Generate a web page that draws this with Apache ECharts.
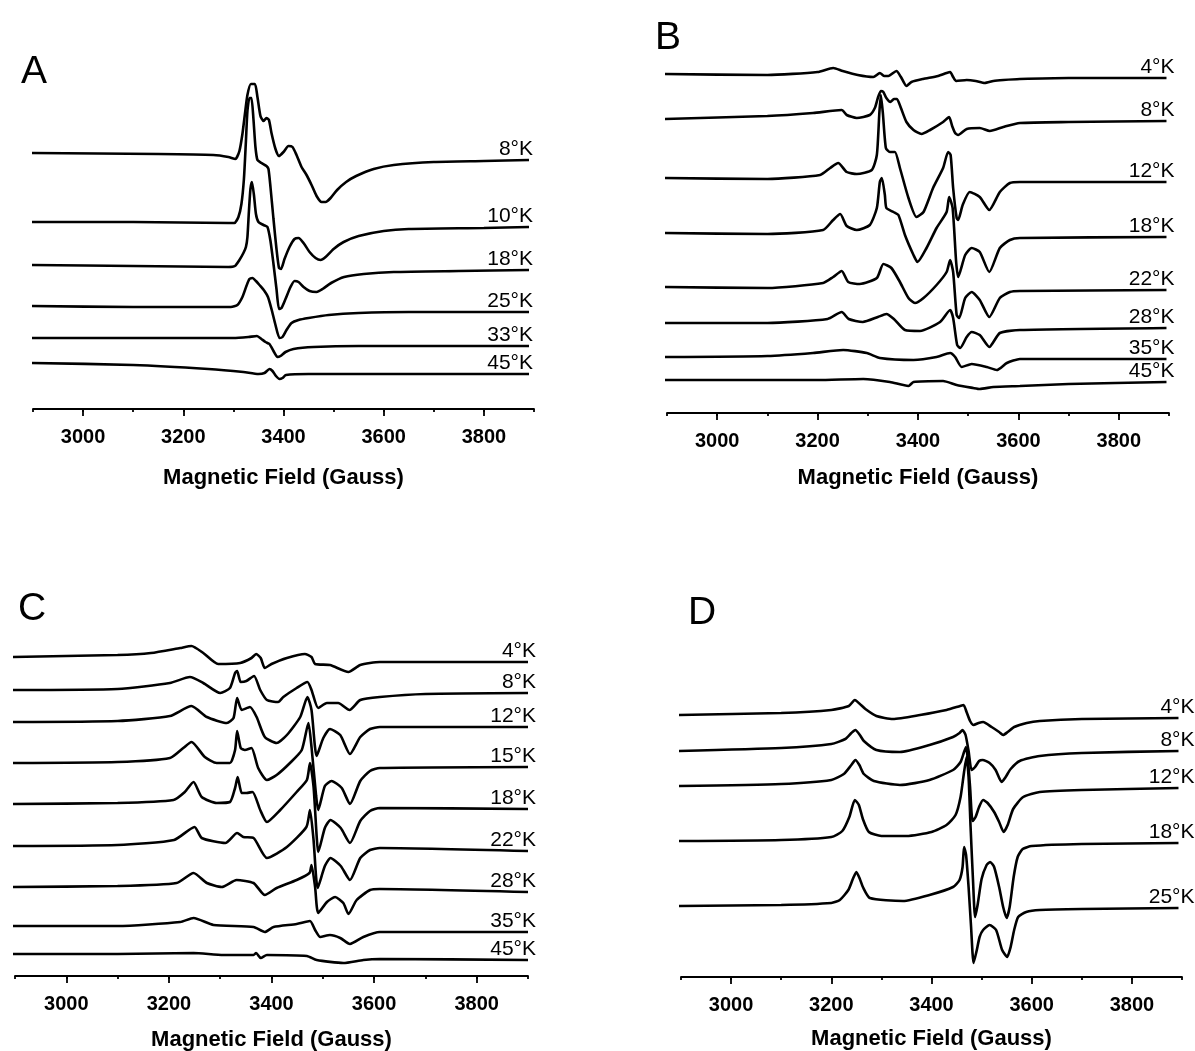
<!DOCTYPE html>
<html>
<head>
<meta charset="utf-8">
<script src="https://cdn.jsdelivr.net/npm/echarts@6/dist/echarts.min.js"></script>
<style>
  html, body { margin: 0; padding: 0; background: #fff; }
  #chart { width: 1195px; height: 1051px; }
</style>
</head>
<body>
<div id="chart"></div>
<script>
// field axis (Gauss)
const fieldMin = 2900
const fieldMax = 3900
const tickLabels = [3000, 3200, 3400, 3600, 3800]

// intensities are in arbitrary units, already stacked (trace baseline + signal)
// ---- panel A
const tempsA = ['8°K', '10°K', '18°K', '25°K', '33°K', '45°K']
const a8 = [[2898,256],[3150,255],[3260,254],[3290,252],[3304,250],[3312,258],[3318,275],[3323,295],[3328,314],[3335,325],[3343,325],[3348,312],[3354,293],[3360,288],[3366,291],[3371,289],[3376,276],[3384,260],[3391,253],[3400,257],[3410,263],[3418,262],[3426,254],[3436,242],[3446,234],[3456,224],[3466,213],[3476,207],[3484,207],[3494,211],[3507,219],[3525,227],[3545,233],[3580,240],[3620,244],[3700,247],[3800,248],[3890,249]]
const a10 = [[2898,187],[3100,187],[3290,186],[3302,186],[3310,192],[3316,205],[3321,230],[3325,268],[3328,298],[3332,311],[3336,311],[3340,290],[3344,262],[3348,249],[3356,246],[3366,243],[3370,240],[3374,222],[3380,190],[3386,160],[3391,141],[3395,140],[3402,150],[3412,162],[3422,170],[3430,171],[3440,166],[3452,157],[3464,151],[3474,149],[3484,152],[3500,160],[3520,167],[3550,173],[3600,178],[3650,180],[3800,181],[3890,182]]
const a18 = [[2898,144],[3100,143],[3290,142],[3303,143],[3312,149],[3320,156],[3325,162],[3328,172],[3331,198],[3334,220],[3337,227],[3341,214],[3345,195],[3350,187],[3360,184],[3368,182],[3374,168],[3380,145],[3386,120],[3391,100],[3396,101],[3404,110],[3414,122],[3422,128],[3430,127],[3440,122],[3452,118],[3466,117],[3478,120],[3495,126],[3521,132],[3560,135],[3620,137],[3750,138],[3890,139]]
const a25 = [[2898,103],[3100,102],[3295,102],[3308,104],[3318,112],[3326,123],[3332,130],[3338,131],[3345,128],[3352,124],[3362,118],[3369,112],[3376,100],[3384,84],[3392,71],[3398,72],[3406,79],[3416,86],[3430,89],[3450,91],[3490,94],[3550,96],[3650,97],[3890,97]]
const a33 = [[2898,71],[3100,71],[3300,71],[3330,72],[3347,73],[3356,70],[3364,67],[3372,65],[3380,58],[3388,52],[3394,53],[3404,57],[3420,60],[3460,62],[3550,63],[3890,63]]
const a45 = [[2898,46],[3100,44],[3250,40],[3320,37],[3350,35],[3362,36],[3372,40],[3378,38],[3385,33],[3392,30],[3398,31],[3405,34],[3450,35],[3890,35]]

// ---- panel B
const tempsB = ['4°K', '8°K', '12°K', '18°K', '22°K', '28°K', '35°K', '45°K']
const b4 = [[2892,339],[3100,338],[3200,341],[3231,345],[3250,342],[3280,338],[3311,336],[3324,340],[3333,337],[3341,337],[3357,342],[3366,336],[3377,327],[3387,331],[3410,334],[3440,337],[3457,340],[3464,341],[3470,336],[3476,332],[3497,333],[3515,332],[3533,330],[3550,332],[3570,333],[3603,334],[3700,335],[3895,335]]
const b8 = [[2892,294],[3100,297],[3191,300],[3248,303],[3258,298],[3278,295],[3304,298],[3314,305],[3320,315],[3326,322],[3331,321],[3337,315],[3345,311],[3352,314],[3358,314],[3366,305],[3377,291],[3391,283],[3407,279],[3424,283],[3450,291],[3462,296],[3468,287],[3474,280],[3480,278],[3497,284],[3523,285],[3543,282],[3570,286],[3603,290],[3700,291],[3895,292]]
const b12 = [[2892,235],[3100,234],[3205,238],[3225,245],[3241,250],[3258,241],[3278,239],[3308,243],[3318,258],[3323,300],[3326,318],[3330,300],[3336,265],[3344,261],[3354,261],[3364,245],[3381,215],[3397,196],[3411,201],[3430,225],[3450,245],[3460,261],[3465,258],[3470,225],[3477,195],[3480,193],[3489,208],[3503,221],[3523,216],[3542,203],[3563,221],[3583,230],[3603,231],[3895,231]]
const b18 = [[2892,180],[3100,179],[3211,183],[3231,193],[3245,199],[3258,187],[3278,183],[3304,188],[3318,205],[3324,231],[3328,235],[3334,218],[3337,205],[3351,201],[3361,198],[3374,178],[3391,158],[3399,151],[3417,165],[3437,185],[3457,201],[3462,216],[3469,205],[3476,151],[3480,136],[3494,158],[3507,165],[3523,161],[3542,141],[3563,165],[3583,173],[3603,175],[3895,176]]
const b22 = [[2892,126],[3100,125],[3211,130],[3231,136],[3248,142],[3261,131],[3284,129],[3318,135],[3331,149],[3347,145],[3364,131],[3381,115],[3394,110],[3411,115],[3437,128],[3457,141],[3464,153],[3470,141],[3477,98],[3482,95],[3494,115],[3507,121],[3523,113],[3542,96],[3563,115],[3583,121],[3603,122],[3895,123]]
const b28 = [[2892,90],[3100,90],[3220,94],[3248,101],[3262,94],[3290,91],[3320,96],[3337,99],[3352,94],[3374,83],[3404,82],[3444,91],[3464,103],[3470,95],[3478,68],[3484,65],[3497,76],[3507,81],[3523,78],[3542,66],[3563,80],[3603,83],[3895,85]]
const b35 = [[2892,56],[3100,57],[3191,60],[3251,63],[3298,60],[3324,55],[3391,53],[3437,56],[3464,60],[3474,56],[3487,46],[3507,49],[3537,46],[3557,43],[3577,50],[3603,54],[3895,54]]
const b45 = [[2892,33],[3200,33],[3291,34],[3344,31],[3381,27],[3391,31],[3450,32],[3477,28],[3510,25],[3523,24],[3550,26],[3603,27],[3700,29],[3895,31]]

// ---- panel C
const tempsC = ['4°K', '8°K', '12°K', '15°K', '18°K', '22°K', '28°K', '35°K', '45°K']
const c4 = [[2888,319],[3100,321],[3165,323],[3222,328],[3244,330],[3267,323],[3296,312],[3339,313],[3361,318],[3370,322],[3379,318],[3387,308],[3400,312],[3430,318],[3465,322],[3478,319],[3485,312],[3514,311],[3550,304],[3573,311],[3611,314],[3900,314]]
const c8 = [[2888,286],[3100,287],[3202,293],[3241,299],[3267,293],[3300,283],[3319,288],[3329,303],[3333,305],[3340,294],[3351,295],[3366,300],[3378,286],[3391,276],[3413,274],[3423,279],[3449,288],[3470,294],[3478,286],[3491,268],[3508,273],[3530,273],[3552,266],[3573,276],[3611,279],[3700,282],[3900,283]]
const c12 = [[2888,254],[3100,255],[3202,260],[3244,270],[3274,259],[3313,253],[3326,258],[3333,278],[3342,266],[3358,269],[3371,259],[3387,239],[3410,233],[3430,241],[3456,259],[3470,279],[3478,266],[3488,220],[3501,238],[3514,247],[3534,241],[3553,222],[3573,239],[3592,247],[3611,249],[3900,249]]
const c15 = [[2888,213],[3100,214],[3202,218],[3228,228],[3244,234],[3270,219],[3293,213],[3319,213],[3329,226],[3333,245],[3340,228],[3348,226],[3361,228],[3374,208],[3391,196],[3410,201],[3436,213],[3459,226],[3472,253],[3478,229],[3487,180],[3491,166],[3504,190],[3517,195],[3537,188],[3553,172],[3573,195],[3592,205],[3611,208],[3900,209]]
const c18 = [[2888,172],[3100,173],[3209,176],[3231,184],[3248,194],[3264,179],[3293,173],[3319,174],[3329,188],[3334,199],[3342,183],[3351,183],[3363,184],[3378,166],[3391,154],[3417,166],[3449,184],[3469,196],[3475,213],[3482,189],[3488,140],[3491,124],[3504,148],[3515,156],[3535,148],[3553,133],[3573,155],[3592,165],[3611,168],[3900,167]]
const c22 = [[2888,130],[3100,131],[3210,136],[3250,149],[3264,138],[3310,133],[3333,143],[3345,139],[3365,138],[3391,118],[3430,129],[3468,149],[3475,166],[3482,136],[3490,88],[3504,110],[3515,118],[3535,110],[3553,96],[3573,118],[3592,126],[3611,128],[3900,125]]
const c28 = [[2888,89],[3100,90],[3215,93],[3248,103],[3274,93],[3303,89],[3332,96],[3365,93],[3387,81],[3410,88],[3449,96],[3474,103],[3478,111],[3485,89],[3491,63],[3508,74],[3524,79],[3540,73],[3550,62],[3566,76],[3592,86],[3611,87],[3900,84]]
const c35 = [[2888,50],[3100,50],[3222,54],[3248,58],[3287,51],[3365,49],[3387,44],[3404,49],[3449,52],[3475,55],[3485,46],[3495,39],[3514,41],[3534,38],[3553,32],[3579,39],[3611,44],[3900,44]]
const c45 = [[2888,22],[3100,22],[3248,23],[3306,21],[3365,21],[3370,23],[3379,18],[3391,21],[3469,20],[3488,16],[3540,13],[3579,16],[3611,17],[3900,16]]

// ---- panel D
const tempsD = ['4°K', '8°K', '12°K', '18°K', '25°K']
const d4 = [[2896,262],[3100,264],[3200,267],[3235,271],[3247,277],[3257,273],[3268,268],[3290,261],[3323,258],[3377,262],[3430,267],[3457,271],[3464,272],[3470,265],[3477,256],[3484,252],[3494,254],[3503,255],[3520,250],[3535,245],[3543,242],[3552,245],[3565,250],[3590,254],[3616,256],[3700,258],[3893,259]]
const d8 = [[2896,226],[3100,229],[3200,233],[3228,238],[3240,244],[3248,247],[3257,242],[3265,236],[3290,227],[3337,225],[3396,232],[3443,240],[3456,244],[3462,247],[3468,242],[3474,226],[3480,207],[3487,210],[3495,216],[3502,217],[3516,214],[3528,207],[3540,195],[3548,200],[3558,208],[3576,216],[3616,221],[3700,224],[3893,226]]
const d12 = [[2896,191],[3100,193],[3200,197],[3225,203],[3240,212],[3248,217],[3256,212],[3265,203],[3285,196],[3337,192],[3396,197],[3443,207],[3458,215],[3465,225],[3469,230],[3473,215],[3477,190],[3482,156],[3488,160],[3495,170],[3503,177],[3512,174],[3525,165],[3535,155],[3544,145],[3552,152],[3563,168],[3583,180],[3616,185],[3700,187],[3893,189]]
const d18 = [[2896,136],[3100,137],[3200,140],[3222,146],[3236,160],[3247,177],[3255,172],[3263,158],[3275,145],[3300,141],[3350,141],[3400,145],[3430,152],[3448,162],[3458,180],[3465,205],[3470,220],[3474,200],[3478,150],[3483,95],[3487,60],[3492,72],[3500,98],[3510,112],[3517,115],[3525,110],[3535,90],[3543,70],[3550,59],[3556,70],[3564,100],[3572,120],[3582,128],[3600,131],[3700,133],[3893,134]]
const d25 = [[2896,71],[3100,72],[3200,74],[3217,77],[3234,87],[3243,98],[3250,105],[3257,98],[3263,90],[3277,79],[3343,76],[3396,82],[3443,90],[3456,97],[3462,110],[3465,130],[3469,122],[3474,90],[3479,50],[3484,14],[3490,26],[3496,40],[3503,47],[3516,52],[3529,47],[3541,27],[3551,20],[3558,30],[3565,47],[3573,60],[3589,65],[3616,67],[3700,68],[3893,69]]

const FONT = 'Arial, "Liberation Sans", Helvetica, sans-serif'

const panels = [
  { letter: 'A', temps: tempsA, spectra: [a8, a10, a18, a25, a33, a45],
    grid: { left: 33, top: 59, width: 501, height: 350 }, letterAt: [21, 53], labelShift: 4, nameGap: 58 },
  { letter: 'B', temps: tempsB, spectra: [b4, b8, b12, b18, b22, b28, b35, b45],
    grid: { left: 667, top: 53, width: 502, height: 360 }, letterAt: [655, 19], labelShift: 8, nameGap: 54 },
  { letter: 'C', temps: tempsC, spectra: [c4, c8, c12, c15, c18, c22, c28, c35, c45],
    grid: { left: 15, top: 626, width: 513, height: 350 }, letterAt: [18, 590], labelShift: 8, nameGap: 53 },
  { letter: 'D', temps: tempsD, spectra: [d4, d8, d12, d18, d25],
    grid: { left: 681, top: 687, width: 501, height: 290 }, letterAt: [688, 594], labelShift: 16, nameGap: 51 }
]

const chart = echarts.init(document.getElementById('chart'))
const option = {
  animation: false,
  backgroundColor: '#fff',
  title: [],
  grid: [],
  xAxis: [],
  yAxis: [],
  series: []
}

panels.forEach((p, i) => {
  option.title.push({
    text: p.letter, left: p.letterAt[0], top: p.letterAt[1], padding: 0,
    textStyle: { fontFamily: FONT, fontSize: 39, fontWeight: 'normal', color: '#000' }
  })
  option.grid.push(Object.assign({ show: false, containLabel: false, outerBoundsMode: 'none' }, p.grid))
  // axis with line, short ticks every 100 G and the labels
  option.xAxis.push({
    gridIndex: i, type: 'value', min: fieldMin, max: fieldMax, interval: 100,
    position: 'bottom',
    axisLine: { onZero: false, lineStyle: { color: '#000', width: 1.8 } },
    axisTick: { length: 3, lineStyle: { color: '#000', width: 1.8 } },
    axisLabel: {
      margin: 18, color: '#000', fontFamily: FONT, fontSize: 20, fontWeight: 'bold',
      formatter: v => tickLabels.indexOf(v) >= 0 ? String(v) : ''
    },
    splitLine: { show: false },
    name: 'Magnetic Field (Gauss)', nameLocation: 'middle', nameGap: p.nameGap,
    nameMoveOverlap: false,
    nameTextStyle: { color: '#000', fontFamily: FONT, fontSize: 22, fontWeight: 'bold' }
  })
  // long ticks at the labelled values, drawn as minor ticks of a second axis
  option.xAxis.push({
    gridIndex: i, type: 'value', min: fieldMin, max: fieldMax, interval: 200,
    position: 'top', offset: -p.grid.height,
    axisLine: { show: false },
    axisTick: { show: false, inside: true },
    minorTick: { show: true, splitNumber: 2, length: 7, lineStyle: { color: '#000', width: 1.8 } },
    axisLabel: { show: false },
    splitLine: { show: false }
  })
  option.yAxis.push({ gridIndex: i, type: 'value', min: 0, max: p.grid.height, show: false })

  p.spectra.forEach((data, k) => {
    option.series.push({
      type: 'line',
      name: p.temps[k],
      xAxisIndex: 2 * i,
      yAxisIndex: i,
      data: data,
      showSymbol: false,
      smooth: 0.2,
      clip: false,
      silent: true,
      lineStyle: { color: '#000', width: 2.6 },
      endLabel: {
        show: true,
        formatter: pr => pr.seriesName,
        align: 'right',
        verticalAlign: 'bottom',
        distance: 0,
        offset: [p.labelShift, 0],
        color: '#000',
        fontFamily: FONT,
        fontSize: 21
      }
    })
  })
})

chart.setOption(option)
</script>
</body>
</html>
